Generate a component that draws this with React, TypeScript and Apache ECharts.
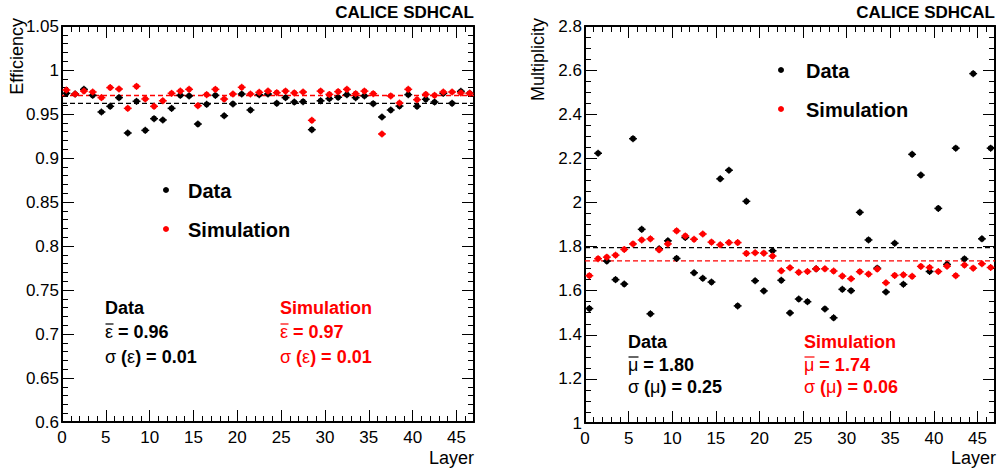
import React, { useEffect, useRef } from "react";
import * as echarts from "echarts";

const LAYERS = [0,1,2,3,4,5,6,7,8,9,10,11,12,13,14,15,16,17,18,19,20,21,22,23,24,25,26,27,28,29,30,31,32,33,34,35,36,37,38,39,40,41,42,43,44,45,46];

const EFF_DATA = [0.9735,0.9727,0.978,0.9712,0.9523,0.9587,0.9686,0.9284,0.9644,0.9314,0.9447,0.9432,0.9564,0.9712,0.9705,0.9386,0.961,0.9712,0.948,0.9614,0.9727,0.9545,0.972,0.9727,0.9621,0.9686,0.9636,0.964,0.9322,0.965,0.9674,0.969,0.972,0.9686,0.9705,0.9617,0.9466,0.9545,0.959,0.972,0.9587,0.9667,0.9636,0.9735,0.9621,0.9758,0.9735];
const EFF_SIM = [0.9773,0.9727,0.9761,0.975,0.9686,0.98,0.9784,0.9564,0.9814,0.9671,0.9587,0.965,0.9735,0.976,0.978,0.9595,0.972,0.978,0.967,0.9727,0.9803,0.9727,0.9746,0.976,0.9742,0.976,0.974,0.975,0.9428,0.976,0.9723,0.9754,0.978,0.9731,0.976,0.9731,0.9273,0.9705,0.9625,0.978,0.9663,0.9723,0.9712,0.975,0.975,0.974,0.9735];
const MUL_DATA = [1.519,2.223,1.734,1.65,1.63,2.289,1.878,1.495,1.79,1.826,1.746,1.841,1.681,1.656,1.639,2.107,2.146,1.531,2.005,1.645,1.599,1.781,1.647,1.499,1.562,1.55,1.699,1.517,1.477,1.606,1.6,1.955,1.83,1.702,1.594,1.815,1.629,2.218,2.124,1.687,1.973,1.719,2.246,1.744,2.584,1.835,2.246];
const MUL_SIM = [1.668,1.745,1.752,1.761,1.787,1.812,1.83,1.835,1.785,1.812,1.871,1.848,1.833,1.857,1.82,1.808,1.818,1.818,1.769,1.772,1.77,1.757,1.69,1.704,1.683,1.687,1.699,1.699,1.689,1.666,1.654,1.686,1.675,1.698,1.636,1.669,1.672,1.665,1.71,1.705,1.687,1.711,1.668,1.716,1.702,1.722,1.705];

const EFF_DATA_MEAN = 0.962;
const EFF_SIM_MEAN = 0.971;
const MUL_DATA_MEAN = 1.795;
const MUL_SIM_MEAN = 1.735;

const X_MIN = 0;
const X_MAX = 47;

const FONT = "Liberation Sans, Arial, Helvetica, sans-serif";

function pts(vals: number[]) {
  return LAYERS.map((l, i) => [l + 0.5, vals[i]]);
}

const renderMarker = (params: any, api: any) => {
  const x = api.value(0);
  const y = api.value(1);
  const c = api.coord([x, y]);
  const l = api.coord([x - 0.45, y]);
  const r = api.coord([x + 0.45, y]);
  const color = api.visual("color");
  return {
    type: "group",
    children: [
      { type: "line", shape: { x1: l[0], y1: c[1], x2: r[0], y2: c[1] }, style: { stroke: color, lineWidth: 1.5 } },
      { type: "line", shape: { x1: c[0], y1: c[1] - 3.5, x2: c[0], y2: c[1] + 3.5 }, style: { stroke: color, lineWidth: 1.2 } },
      { type: "circle", shape: { cx: c[0], cy: c[1], r: 3 }, style: { fill: color } },
    ],
  };
};

function xAxes(gridIndex: number) {
  const base = {
    gridIndex,
    type: "value",
    min: X_MIN,
    max: X_MAX,
    splitLine: { show: false },
  };
  return [
    {
      ...base,
      position: "bottom",
      interval: 5,
      axisLine: { show: true, onZero: false, lineStyle: { color: "#000", width: 2 } },
      axisTick: { show: true, inside: true, length: 12, lineStyle: { color: "#000", width: 1 } },
      axisLabel: {
        show: true,
        color: "#000",
        fontSize: 17,
        fontFamily: FONT,
        margin: 7,
        formatter: (v: number) => (Math.abs(v % 5) < 1e-6 ? String(v) : ""),
      },
    },
    {
      ...base,
      position: "bottom",
      interval: 1,
      axisLine: { show: false, onZero: false },
      axisTick: { show: true, inside: true, length: 6, lineStyle: { color: "#000", width: 1 } },
      axisLabel: { show: false },
    },
    {
      ...base,
      position: "top",
      interval: 5,
      axisLine: { show: true, onZero: false, lineStyle: { color: "#000", width: 2 } },
      axisTick: { show: true, inside: true, length: 12, lineStyle: { color: "#000", width: 1 } },
      axisLabel: { show: false },
    },
    {
      ...base,
      position: "top",
      interval: 1,
      axisLine: { show: false, onZero: false },
      axisTick: { show: true, inside: true, length: 6, lineStyle: { color: "#000", width: 1 } },
      axisLabel: { show: false },
    },
  ];
}

function yAxes(gridIndex: number, min: number, max: number, interval: number, minorSplit: number) {
  const base = {
    gridIndex,
    type: "value",
    min,
    max,
    interval,
    splitLine: { show: false },
    minorTick: { show: true, splitNumber: minorSplit, length: 6, lineStyle: { color: "#000", width: 1 } },
    axisTick: { show: true, inside: true, length: 12, lineStyle: { color: "#000", width: 1 } },
    axisLine: { show: true, onZero: false, lineStyle: { color: "#000", width: 2 } },
  };
  return [
    {
      ...base,
      position: "left",
      axisLabel: { show: true, color: "#000", fontSize: 17, fontFamily: FONT, margin: 3 },
    },
    {
      ...base,
      position: "right",
      axisLabel: { show: false },
    },
  ];
}

function meanLine(xIdx: number, yIdx: number, value: number, color: string) {
  return {
    type: "line",
    xAxisIndex: xIdx,
    yAxisIndex: yIdx,
    data: [[X_MIN, value], [X_MAX, value]],
    symbol: "none",
    silent: true,
    lineStyle: { color, width: 1.3, type: [5, 3] },
    z: 1,
  };
}

function markerSeries(xIdx: number, yIdx: number, vals: number[], color: string, z: number) {
  return {
    type: "custom",
    xAxisIndex: xIdx,
    yAxisIndex: yIdx,
    renderItem: renderMarker,
    itemStyle: { color },
    data: pts(vals),
    clip: true,
    z,
  };
}

const RICH = (color: string) => ({
  g: { fontFamily: FONT, fontSize: 18, fontWeight: "normal", fill: color },
  b: { fontFamily: FONT, fontSize: 18, fontWeight: "bold", fill: color },
});

function meanText(x: number, y: number, greek: string, barWidth: number, rest: string, color: string) {
  return [
    {
      type: "text",
      x,
      y,
      style: {
        text: `{g|${greek}}{b|\u00a0${rest}}`,
        fill: color,
        verticalAlign: "middle",
        align: "left",
        rich: RICH(color),
      },
    },
    {
      type: "line",
      shape: { x1: x + 0.5, y1: y - 8, x2: x + 0.5 + barWidth, y2: y - 8 },
      style: { stroke: color, lineWidth: 1.2 },
    },
  ];
}

function sigmaText(x: number, y: number, greek: string, rest: string, color: string) {
  return {
    type: "text",
    x,
    y,
    style: {
      text: `{g|σ\u00a0}{b|(}{g|${greek}}{b|)\u00a0${rest}}`,
      fill: color,
      verticalAlign: "middle",
      align: "left",
      rich: RICH(color),
    },
  };
}

function plainText(x: number, y: number, text: string, color: string, size: number, weight: string, align: string) {
  return {
    type: "text",
    x,
    y,
    style: { text, fill: color, font: `${weight} ${size}px ${FONT}`, align, verticalAlign: "middle" },
  };
}

export default function App() {
  const ref = useRef<HTMLDivElement>(null);

  useEffect(() => {
    if (!ref.current) return;
    const chart = echarts.init(ref.current, null, { renderer: "svg" });

    const option: any = {
      animation: false,
      backgroundColor: "#fff",
      grid: [
        { left: 62, top: 26, width: 412, height: 396, containLabel: false },
        { left: 585, top: 26, width: 410, height: 397, containLabel: false },
      ],
      xAxis: [...xAxes(0), ...xAxes(1)],
      yAxis: [...yAxes(0, 0.6, 1.05, 0.05, 5), ...yAxes(1, 1, 2.8, 0.2, 4)],
      series: [
        meanLine(0, 0, EFF_DATA_MEAN, "#000"),
        meanLine(0, 0, EFF_SIM_MEAN, "#ff0000"),
        markerSeries(0, 0, EFF_DATA, "#000", 3),
        markerSeries(0, 0, EFF_SIM, "#ff0000", 4),
        meanLine(4, 2, MUL_DATA_MEAN, "#000"),
        meanLine(4, 2, MUL_SIM_MEAN, "#ff0000"),
        markerSeries(4, 2, MUL_DATA, "#000", 3),
        markerSeries(4, 2, MUL_SIM, "#ff0000", 4),
      ],
      graphic: [
        plainText(474, 12, "CALICE SDHCAL", "#000", 17, "bold", "right"),
        plainText(995, 12, "CALICE SDHCAL", "#000", 17, "bold", "right"),
        {
          type: "text",
          x: 17,
          y: 18,
          rotation: Math.PI / 2,
          style: { text: "Efficiency", fill: "#000", font: `normal 18px ${FONT}`, align: "right", verticalAlign: "middle" },
        },
        {
          type: "text",
          x: 538,
          y: 18,
          rotation: Math.PI / 2,
          style: { text: "Multiplicity", fill: "#000", font: `normal 18px ${FONT}`, align: "right", verticalAlign: "middle" },
        },
        plainText(474, 458, "Layer", "#000", 18, "normal", "right"),
        plainText(996, 458, "Layer", "#000", 18, "normal", "right"),
        { type: "circle", shape: { cx: 166, cy: 190, r: 3 }, style: { fill: "#000" } },
        plainText(188, 191, "Data", "#000", 20, "bold", "left"),
        { type: "circle", shape: { cx: 166, cy: 229, r: 3 }, style: { fill: "#ff0000" } },
        plainText(188, 230, "Simulation", "#000", 20, "bold", "left"),
        { type: "circle", shape: { cx: 781, cy: 70, r: 3 }, style: { fill: "#000" } },
        plainText(806, 71, "Data", "#000", 20, "bold", "left"),
        { type: "circle", shape: { cx: 781, cy: 109, r: 3 }, style: { fill: "#ff0000" } },
        plainText(806, 110, "Simulation", "#000", 20, "bold", "left"),
        plainText(105, 308, "Data", "#000", 18, "bold", "left"),
        ...meanText(105, 332, "ε", 8, "= 0.96", "#000"),
        sigmaText(105, 357, "ε", "= 0.01", "#000"),
        plainText(280, 308, "Simulation", "#ff0000", 18, "bold", "left"),
        ...meanText(280, 332, "ε", 8, "= 0.97", "#ff0000"),
        sigmaText(280, 357, "ε", "= 0.01", "#ff0000"),
        plainText(628, 342, "Data", "#000", 18, "bold", "left"),
        ...meanText(628, 365, "μ", 10, "= 1.80", "#000"),
        sigmaText(628, 387, "μ", "= 0.25", "#000"),
        plainText(804, 342, "Simulation", "#ff0000", 18, "bold", "left"),
        ...meanText(804, 365, "μ", 10, "= 1.74", "#ff0000"),
        sigmaText(804, 387, "μ", "= 0.06", "#ff0000"),
      ],
    };

    chart.setOption(option);
    return () => chart.dispose();
  }, []);

  return (
    <div
      ref={ref}
      style={{ position: "absolute", left: 0, top: 0, width: 999, height: 468, background: "#fff" }}
    />
  );
}
